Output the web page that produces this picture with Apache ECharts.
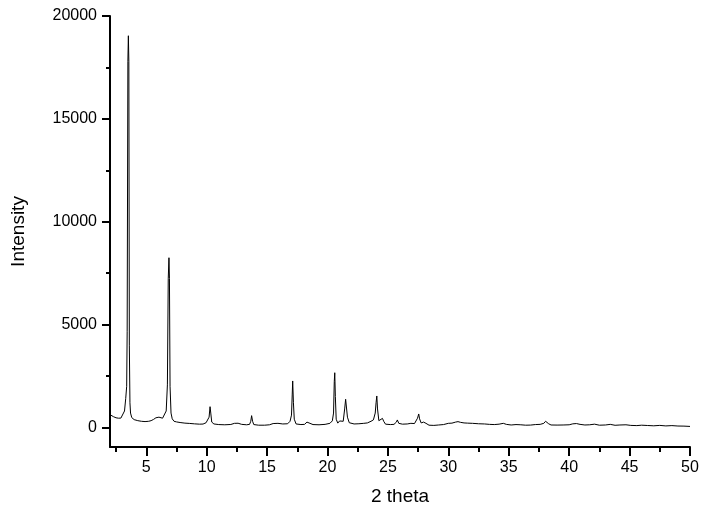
<!DOCTYPE html>
<html>
<head>
<meta charset="utf-8">
<script src="https://cdn.jsdelivr.net/npm/echarts@6/dist/echarts.min.js"></script>
<style>
html,body{margin:0;padding:0;background:#fff;}
#chart{width:707px;height:518px;}
</style>
</head>
<body>
<div id="chart"></div>
<script>
// 2θ positions (degrees)
const twoTheta = [
2.0,2.1,2.3,2.5,2.7,2.9,3.05,3.2,3.3,3.38,3.42,3.48,3.52,3.56,3.6,3.65,3.7,3.8,4.0,4.3,
4.6,4.9,5.2,5.4,5.6,5.8,5.95,6.05,6.2,6.35,6.5,6.65,6.75,6.82,6.88,6.92,6.97,7.05,7.15,7.3,
7.5,7.8,8.2,8.6,9.0,9.4,9.7,9.95,10.1,10.2,10.28,10.34,10.42,10.6,11.0,11.5,12.0,12.3,12.6,12.9,
13.3,13.55,13.65,13.72,13.8,13.9,14.3,14.8,15.2,15.5,15.9,16.3,16.7,16.9,17.02,17.08,17.12,17.18,17.25,17.4,
17.8,18.1,18.3,18.4,18.55,18.8,19.3,19.8,20.2,20.4,20.5,20.56,20.6,20.65,20.72,20.85,21.0,21.1,21.3,21.42,
21.5,21.58,21.65,21.8,22.2,22.6,23.0,23.3,23.6,23.8,23.95,24.02,24.08,24.14,24.25,24.4,24.55,24.65,24.8,25.2,
25.5,25.7,25.78,25.9,26.2,26.6,26.9,27.2,27.35,27.45,27.55,27.62,27.75,27.95,28.05,28.15,28.4,28.8,29.2,29.6,
30.0,30.3,30.6,30.8,31.0,31.3,31.6,32.0,32.5,33.0,33.4,33.8,34.2,34.55,34.8,35.2,35.6,36.0,36.4,36.8,
37.2,37.6,37.9,38.05,38.16,38.3,38.5,39.0,39.5,40.0,40.3,40.6,40.9,41.3,41.7,42.1,42.5,43.0,43.4,43.8,
44.2,44.7,45.1,45.6,46.0,46.5,47.0,47.5,48.0,48.5,49.0,49.5,50.0
];
// Intensity (counts)
const intensity = [
620,600,520,470,450,455,520,800,1400,2000,4650,17800,19040,17800,4000,1200,700,480,380,330,
300,285,300,330,390,470,530,500,460,450,520,800,2070,7230,8250,7230,2000,700,420,300,
270,240,210,195,175,160,165,230,300,500,1010,700,260,170,140,130,145,200,205,150,
130,150,300,574,300,140,110,110,130,190,200,170,180,300,600,1580,2260,1200,400,170,
140,150,260,283,200,140,130,150,200,320,700,2230,2660,1500,400,210,315,220,300,900,
1370,1300,500,230,170,180,200,220,300,370,700,1200,1530,900,330,280,440,300,160,140,
150,260,365,200,160,170,200,190,250,450,656,420,220,260,330,200,110,100,120,140,
200,210,260,283,250,220,210,200,180,170,150,140,160,200,150,120,140,130,110,115,
140,150,200,300,330,180,120,115,120,130,175,190,150,120,130,160,110,120,150,105,
120,130,100,90,110,95,80,100,75,90,70,65,50
];
const xMajorTicks = [5,10,15,20,25,30,35,40,45,50];
const xMinorTicks = [2.5,7.5,12.5,17.5,22.5,27.5,32.5,37.5,42.5,47.5];
const yMajorTicks = [0,5000,10000,15000,20000];
const yMinorTicks = [2500,7500,12500,17500];

const points = twoTheta.map((t,i)=>[t,intensity[i]]);
const font = '"Liberation Sans", Arial, sans-serif';
const fmt = v => String(v);
const axisCommon = {
  type:'value', splitLine:{show:false},
};
const chart = echarts.init(document.getElementById('chart'));
chart.setOption({
  animation:false,
  backgroundColor:'#fff',
  grid:{left:110,right:17,top:16,bottom:71,containLabel:false},
  xAxis:[
    Object.assign({},axisCommon,{
      min:2,max:50,position:'bottom',
      name:'2 theta',nameLocation:'middle',nameGap:40,
      nameTextStyle:{fontFamily:font,fontSize:19,color:'#000'},
      axisLine:{show:true,onZero:false,lineStyle:{color:'#000',width:2}},
      axisTick:{show:true,length:9,customValues:xMajorTicks,lineStyle:{color:'#000',width:2}},
      axisLabel:{show:true,customValues:xMajorTicks,formatter:fmt,margin:13,fontFamily:font,fontSize:16,color:'#000'}
    }),
    Object.assign({},axisCommon,{
      min:2,max:50,position:'bottom',
      axisLine:{show:false,onZero:false},
      axisTick:{show:true,length:5,customValues:xMinorTicks,lineStyle:{color:'#000',width:2}},
      axisLabel:{show:false}
    })
  ],
  yAxis:[
    Object.assign({},axisCommon,{
      min:-950,max:20000,position:'left',
      name:'Intensity',nameLocation:'middle',nameGap:82,nameRotate:90,
      nameTextStyle:{fontFamily:font,fontSize:19,color:'#000'},
      axisLine:{show:true,onZero:false,lineStyle:{color:'#000',width:2}},
      axisTick:{show:true,length:8,customValues:yMajorTicks,lineStyle:{color:'#000',width:2}},
      axisLabel:{show:true,customValues:yMajorTicks,formatter:fmt,margin:13,fontFamily:font,fontSize:16,color:'#000'}
    }),
    Object.assign({},axisCommon,{
      min:-950,max:20000,position:'left',
      axisLine:{show:false,onZero:false},
      axisTick:{show:true,length:4,customValues:yMinorTicks,lineStyle:{color:'#000',width:2}},
      axisLabel:{show:false}
    })
  ],
  series:[{
    type:'line',xAxisIndex:0,yAxisIndex:0,data:points,
    showSymbol:false,symbol:'none',
    lineStyle:{color:'#000',width:1},
    silent:true
  }]
});
</script>
</body>
</html>
